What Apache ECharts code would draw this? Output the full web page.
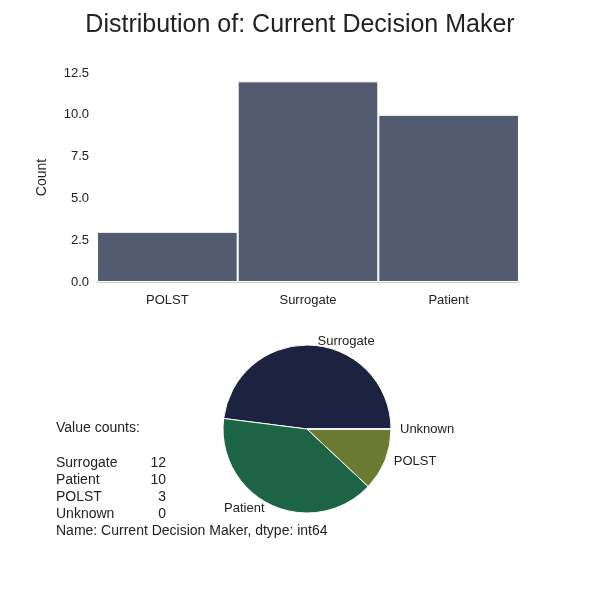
<!DOCTYPE html>
<html><head><meta charset="utf-8">
<script src="https://cdn.jsdelivr.net/npm/echarts@6/dist/echarts.min.js"></script>
<style>html,body{margin:0;background:#fff}#c{width:600px;height:600px}</style>
</head><body><div id="c"></div>
<script>
var barCats = ['POLST', 'Surrogate', 'Patient'];
var barVals = [3, 12, 10];
var pieNames = ['Surrogate', 'Patient', 'POLST', 'Unknown'];
var pieVals = [12, 10, 3, 0];
var pieColors = ['#1b2340', '#1d6446', '#6b7a31', '#8a8a8a'];

var chart = echarts.init(document.getElementById('c'));
var font = 'Arial, "Liberation Sans", sans-serif';
var txt = [{type:'text', left:56, top:421, style:{text:'Value counts:', font:'14px '+font, fill:'#222'}}];
pieNames.forEach(function (n, i) {
  txt.push({type:'text', left:56, top:456 + i*17, style:{text:n, font:'14px '+font, fill:'#222'}});
  txt.push({type:'text', x:166, y:456 + i*17, style:{text:String(pieVals[i]), font:'14px '+font, fill:'#222', align:'right'}});
});
txt.push({type:'text', left:56, top:524, style:{text:'Name: Current Decision Maker, dtype: int64', font:'14px '+font, fill:'#222'}});

chart.setOption({
  backgroundColor:'#fff',
  animation:false,
  title:{text:'Distribution of: Current Decision Maker', left:'center', top:8,
    textStyle:{fontFamily:font, fontSize:25, fontWeight:'normal', color:'#222'}},
  grid:{left:97, right:81, top:73, height:209},
  xAxis:{type:'category', data:barCats, axisTick:{show:false},
    axisLine:{lineStyle:{color:'#ccc'}}, splitLine:{show:false},
    axisLabel:{color:'#222', fontSize:13, fontFamily:font, margin:12}},
  yAxis:{type:'value', min:0, max:12.5, interval:2.5, name:'Count', nameLocation:'middle', nameGap:48,
    nameTextStyle:{color:'#222', fontSize:14, fontFamily:font},
    axisLabel:{color:'#222', fontSize:13, fontFamily:font, formatter:function(v){return v.toFixed(1);}},
    splitLine:{show:false}, axisLine:{show:false}, axisTick:{show:false}},
  series:[
    {type:'bar', data:barVals, barWidth:'100%', itemStyle:{color:'#525b6f', borderColor:'#fff', borderWidth:1}},
    {type:'pie', center:[307,429], radius:84, startAngle:0, clockwise:false,
      minShowLabelAngle:0, stillShowZeroSum:true,
      data:pieNames.map(function(n,i){return {name:n, value:pieVals[i], itemStyle:{color:pieColors[i]}};}),
      itemStyle:{borderColor:'#fff', borderWidth:1},
      label:{show:true, position:'outside', color:'#222', fontSize:13, fontFamily:font},
      labelLine:{show:false, length:4, length2:0}}
  ],
  graphic:txt
});
</script></body></html>
